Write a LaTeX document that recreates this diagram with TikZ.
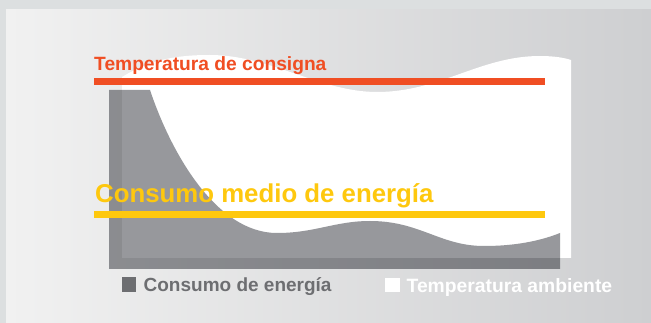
\documentclass[tikz,border=0pt]{standalone}
\usepackage{fontspec}
\setmainfont{Liberation Sans}
\usetikzlibrary{positioning}
\definecolor{consigna}{HTML}{F04E23}
\definecolor{medio}{HTML}{FEC80E}
\definecolor{consumo}{HTML}{97989C}
\definecolor{leyenda}{HTML}{6D6E71}
\definecolor{marco}{HTML}{DCDFE0}
\definecolor{fondoizq}{HTML}{F1F1F1}
\definecolor{fondoder}{HTML}{CECFD1}
\tikzset{
rotulo/.style args = {#1/#2}{anchor=base west, inner sep=0pt, text=#1,
            font=\bfseries\fontsize{#2}{#2}\selectfont},
cuadro/.style = {minimum size=14.5pt, inner sep=0pt, fill=#1}
}

\begin{document}
\begin{tikzpicture}[x=1pt,y=-1pt]
  \useasboundingbox (0,0) rectangle (651,323);
  \fill[marco] (0,0) rectangle (651,323);
  \shade[left color=fondoizq, right color=fondoder] (6,10) rectangle (651,323);
  % temperatura ambiente
  \fill[white] (122,77) .. controls (150,60) and (175,55) .. (210,55)
    .. controls (270,55) and (320,92) .. (377,92)
    .. controls (440,92) and (480,56) .. (540,56)
    .. controls (555,56) and (565,58) .. (571,60)
    -- (571,258) -- (122,258) -- cycle;
  % consumo de energia
  \fill[consumo, blend mode=multiply] (109,90) -- (150,90)
    .. controls (170,150) and (215,233) .. (277,233)
    .. controls (315,233) and (335,221) .. (370,221)
    .. controls (420,221) and (440,246) .. (484,246)
    .. controls (515,246) and (540,241) .. (560,233)
    -- (560,269) -- (109,269) -- cycle;
  \draw[consigna, line width=7pt] (94,81.5) -- (545,81.5);
  \draw[medio, line width=6.5pt] (94,214.5) -- (545,214.5);
  \node[rotulo=consigna/19.2] (tcons) at (94,71) {Temperatura de consigna};
  \node[rotulo=medio/25.8] (tmedio) at (95,202.5) {Consumo medio de energía};
  % leyenda
  \node[cuadro=leyenda] (lcons) at (129,284.5) {};
  \node[rotulo=leyenda/19] (tlcons) at ([xshift=7pt]lcons.south east) {Consumo de energía};
  \node[cuadro=white] (lamb) at (392.5,285) {};
  \node[rotulo=white/19.3] (tlamb) at ([xshift=6.5pt]lamb.south east) {Temperatura ambiente};
\end{tikzpicture}
\end{document}
